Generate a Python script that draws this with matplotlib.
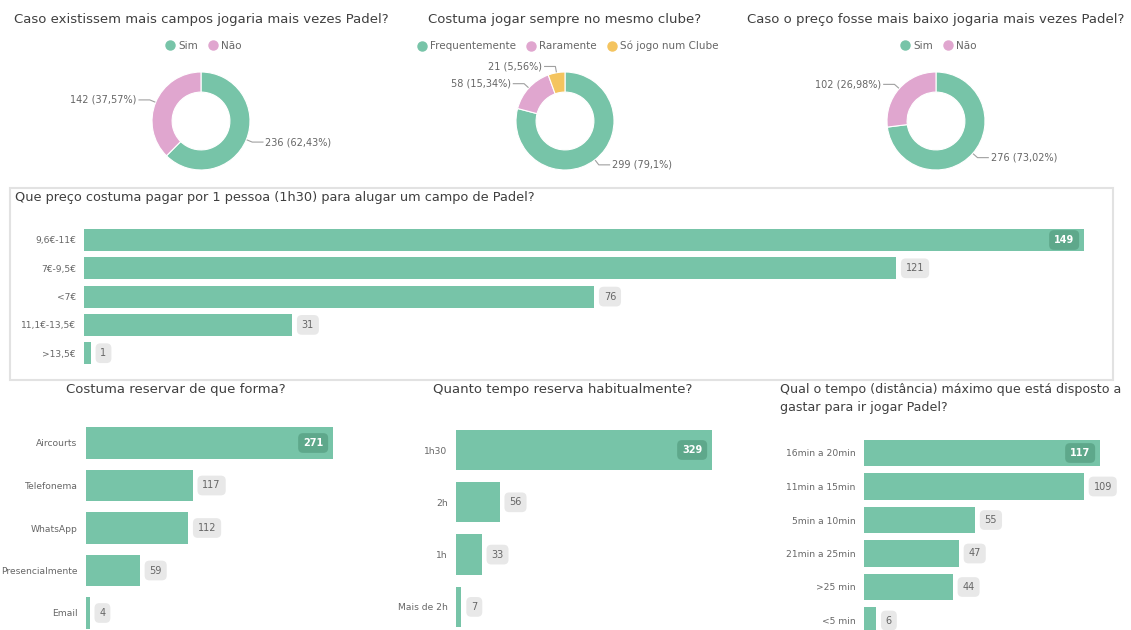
import matplotlib.pyplot as plt
import numpy as np
from matplotlib.lines import Line2D
from matplotlib.patches import Rectangle

# data
donut1_labels = ["Sim", "Não"]
donut1_values = [236, 142]
donut2_labels = ["Frequentemente", "Raramente", "Só jogo num Clube"]
donut2_values = [299, 58, 21]
donut3_labels = ["Sim", "Não"]
donut3_values = [276, 102]

price_cats = ["9,6€-11€", "7€-9,5€", "<7€", "11,1€-13,5€", ">13,5€"]
price_vals = [149, 121, 76, 31, 1]

reserve_cats = ["Aircourts", "Telefonema", "WhatsApp", "Presencialmente", "Email"]
reserve_vals = [271, 117, 112, 59, 4]

duration_cats = ["1h30", "2h", "1h", "Mais de 2h"]
duration_vals = [329, 56, 33, 7]

distance_cats = ["16min a 20min", "11min a 15min", "5min a 10min", "21min a 25min", ">25 min", "<5 min"]
distance_vals = [117, 109, 55, 47, 44, 6]

GREEN = "#77C4A8"
PINK = "#E0A6CF"
YELLOW = "#F4C45F"
DARK = "#5EA88B"
TITLE = "#3F3F3F"
LABEL = "#666666"

W, H = 1131, 630
plt.rcParams['font.family'] = ['DejaVu Sans']
fig = plt.figure(figsize=(W / 100, H / 100), dpi=100)
fig.patch.set_facecolor("white")


def px_axes(left, top, width, height):
    return fig.add_axes([left / W, 1 - (top + height) / H, width / W, height / H])


def fig_text(x, y, s, **kw):
    fig.text(x / W, 1 - y / H, s, **kw)


def donut(cx, cy, labels, values, colors, title):
    R = 49
    ax = px_axes(cx - 160, cy - 75, 320, 150)
    wedges, _ = ax.pie(values, colors=colors, startangle=90, counterclock=False,
                       radius=1, wedgeprops=dict(width=0.41, edgecolor="white", linewidth=0.8))
    ax.set_xlim(-160 / R, 160 / R)
    ax.set_ylim(-75 / R, 75 / R)
    ax.axis("off")
    total = sum(values)
    for w, v in zip(wedges, values):
        ang = np.deg2rad((w.theta1 + w.theta2) / 2)
        c, s = np.cos(ang), np.sin(ang)
        side = 1 if c >= 0 else -1
        p1 = (1.02 * c, 1.02 * s)
        p2 = (1.13 * c, 1.13 * s)
        p3 = (p2[0] + side * 0.22, p2[1])
        ax.plot([p1[0], p2[0], p3[0]], [p1[1], p2[1], p3[1]], color="#A0A0A0", lw=0.8)
        pct = f"{100 * v / total:.2f}".rstrip("0").rstrip(".").replace(".", ",")
        ax.text(p3[0] + side * 0.05, p3[1], f"{v} ({pct}%)", fontsize=7, color=LABEL,
                ha="left" if side > 0 else "right", va="center")
    fig_text(cx, 20, title, fontsize=9.5, color=TITLE, ha="center", va="center")
    handles = [Line2D([], [], marker="o", ls="none", color=col, markersize=6.5) for col in colors]
    fig.legend(handles, labels, loc="center", bbox_to_anchor=(cx / W, 1 - 46 / H), ncol=len(labels),
               frameon=False, handletextpad=-0.2, columnspacing=0.4, fontsize=7.5, labelcolor=LABEL)


def bar_panel(cats, vals, left, first_y, spacing, right, px_per_unit, bar_frac):
    n = len(cats)
    top = first_y - spacing / 2
    ax = px_axes(left, top, right - left, spacing * n)
    ax.barh(range(n), vals, height=bar_frac, color=GREEN)
    ax.set_xlim(0, (right - left) / px_per_unit)
    ax.set_ylim(n - 0.5, -0.5)
    ax.set_yticks(range(n))
    ax.set_yticklabels(cats, fontsize=6.6, color=LABEL)
    ax.tick_params(axis="y", length=0, pad=6)
    ax.set_xticks([])
    for sp in ax.spines.values():
        sp.set_visible(False)
    ax.patch.set_alpha(0)
    vmax = max(vals)
    for i, v in enumerate(vals):
        if v == vmax:
            ax.annotate(str(v), (v, i), xytext=(-7, 0), textcoords="offset points",
                        ha="right", va="center", fontsize=7, color="white", fontweight="bold",
                        bbox=dict(boxstyle="round,pad=0.5", fc=DARK, ec="none"))
        else:
            ax.annotate(str(v), (v, i), xytext=(7, 0), textcoords="offset points",
                        ha="left", va="center", fontsize=7, color=LABEL,
                        bbox=dict(boxstyle="round,pad=0.5", fc="#E8E8E8", ec="none"))
    return ax


donut(201, 121, donut1_labels, donut1_values, [GREEN, PINK],
      "Caso existissem mais campos jogaria mais vezes Padel?")
donut(565, 121, donut2_labels, donut2_values, [GREEN, PINK, YELLOW],
      "Costuma jogar sempre no mesmo clube?")
donut(936, 121, donut3_labels, donut3_values, [GREEN, PINK],
      "Caso o preço fosse mais baixo jogaria mais vezes Padel?")

# framed price panel
fig.patches.append(Rectangle((10 / W, 1 - 380 / H), 1103 / W, 192 / H, transform=fig.transFigure,
                             fill=False, ec="#E2E2E2", lw=1.5))
fig_text(15, 198, "Que preço costuma pagar por 1 pessoa (1h30) para alugar um campo de Padel?",
         fontsize=9.3, color=TITLE, ha="left", va="center")
bar_panel(price_cats, price_vals, 84, 240, 28.3, 1100, 1000 / 149, 0.78)

fig_text(176, 390, "Costuma reservar de que forma?", fontsize=9.5, color=TITLE, ha="center", va="center")
bar_panel(reserve_cats, reserve_vals, 86, 443, 42.5, 370, 247 / 271, 0.75)

fig_text(563, 390, "Quanto tempo reserva habitualmente?", fontsize=9.5, color=TITLE, ha="center", va="center")
bar_panel(duration_cats, duration_vals, 456, 450, 52.3, 760, 256 / 329, 0.77)

fig_text(780, 389, "Qual o tempo (distância) máximo que está disposto a", fontsize=9.1, color=TITLE,
         ha="left", va="center")
fig_text(780, 408, "gastar para ir jogar Padel?", fontsize=9.1, color=TITLE, ha="left", va="center")
bar_panel(distance_cats, distance_vals, 864, 453, 33.5, 1125, 236 / 117, 0.8)

fig.savefig("out.png", dpi=100)
